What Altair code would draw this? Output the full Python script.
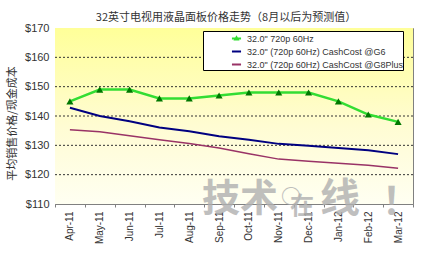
import altair as alt
import pandas as pd

months = ["Apr-11", "May-11", "Jun-11", "Jul-11", "Aug-11", "Sep-11",
          "Oct-11", "Nov-11", "Dec-11", "Jan-12", "Feb-12", "Mar-12"]
price_720p = [145, 149, 149, 146, 146, 147, 148, 148, 148, 145, 140.5, 138]
cash_g6 = [142.8, 140, 138.2, 136.1, 134.8, 133.1, 131.9, 130.5, 129.9, 129.1, 128.3, 127.0]
cash_g8 = [135.3, 134.6, 133.3, 131.9, 130.6, 129.1, 127.1, 125.3, 124.6, 123.9, 123.2, 122.2]
series_names = ['32.0" 720p 60Hz',
                '32.0" (720p 60Hz) CashCost @G6',
                '32.0" (720p 60Hz) CashCost @G8Plus']
y_ticks = [110, 120, 130, 140, 150, 160, 170]
grid_vals = [120, 130, 140, 150, 160]

rows = []
for name, vals in zip(series_names, [price_720p, cash_g6, cash_g8]):
    for m, v in zip(months, vals):
        rows.append({"month": m, "value": v, "series": name})
df = pd.DataFrame(rows)
grid_df = pd.DataFrame({"value": grid_vals})

W, H = 358, 176
FONT = "Liberation Sans"
CJK = "Noto Sans CJK SC"

x_scale = alt.Scale(type="band", domain=months, paddingInner=0, paddingOuter=0)
y_scale = alt.Scale(domain=[110, 170], nice=False, zero=False)
y_axis = alt.Axis(values=y_ticks, labelExpr="'$' + datum.value", grid=False, ticks=False,
                  domain=False, labelFontSize=11, labelFont=FONT, labelColor="#333333",
                  labelPadding=6, title="平均销售价格/现金成本", titleFont=CJK,
                  titleFontSize=11, titleFontWeight="normal", titleColor="#333333",
                  titleX=-43, titleY=95, titleAngle=270, titleAlign="center",
                  titleBaseline="middle")
x_axis = alt.Axis(title=None, labelAngle=270, labelAlign="right", labelBaseline="middle",
                  labelFontSize=10, labelFont=FONT, labelColor="#333333", tickBand="extent",
                  tickSize=3, tickColor="#808080", domainColor="#808080", labelPadding=4,
                  grid=False)

line_colors = ["#33dd33", "#000080", "#993366"]
line_widths = [2.5, 2, 1.5]
green_path = "M-0.7,0H0.7M-0.2,0.16L0,-0.18L0.2,0.16Z"
plain_path = "M-0.7,0H0.7"
pad = "\u00a0" * 10
legend = alt.Legend(title=None, orient="none", legendX=148, legendY=3, fillColor="#ffffff",
                    strokeColor="#000000", padding=0, symbolSize=169, symbolOffset=26,
                    labelOffset=3, labelFontSize=9, labelFont=FONT,
                    labelColor="#333333", symbolStrokeWidth=2, symbolFillColor="#006600",
                    symbolOpacity=1, rowPadding=0, columns=1,
                    labelExpr="datum.label + '" + pad + "'")

X = alt.X("month:N", scale=x_scale, axis=x_axis, sort=months)
Y = alt.Y("value:Q", scale=y_scale, axis=y_axis)

bg = alt.Chart(pd.DataFrame({"a": [0]})).mark_rect(
    fill=alt.Gradient(gradient="linear",
                      stops=[alt.GradientStop(color="#ffff99", offset=0),
                             alt.GradientStop(color="#fffcd2", offset=0.55),
                             alt.GradientStop(color="#fffff2", offset=1)],
                      x1=0, x2=0, y1=0, y2=1)
).encode(x=alt.value(0), x2=alt.value(W), y=alt.value(0), y2=alt.value(H))

grid = alt.Chart(grid_df).mark_rule(color="#333333", strokeDash=[2, 2], strokeWidth=1).encode(y=Y)

line_layers = []
for name, c, w in zip(series_names, line_colors, line_widths):
    line_layers.append(
        alt.Chart(df).transform_filter(alt.datum.series == name)
        .mark_line(color=c, strokeWidth=w).encode(x=X, y=Y)
    )

tri = alt.Chart(df).transform_filter(
    alt.datum.series == series_names[0]
).mark_point(shape="triangle-up", filled=True, color="#007700", size=50, opacity=1).encode(x=X, y=Y)

leg = alt.Chart(df).transform_filter(
    alt.datum.series == series_names[0]
).mark_point(filled=False, opacity=0, fill="#006600").encode(
    x=X, y=Y,
    color=alt.Color("series:N", scale=alt.Scale(domain=series_names, range=line_colors), legend=legend),
    shape=alt.Shape("series:N", scale=alt.Scale(domain=series_names, range=[green_path, plain_path, plain_path]), legend=legend),
)

wm_style = dict(font=CJK, fontWeight="bold", color="#b0b0b0", opacity=0.8,
                align="center", baseline="middle")
wm1 = alt.Chart(pd.DataFrame({"t": ["技术"]})).mark_text(fontSize=38, **wm_style).encode(
    text="t:N", x=alt.value(185), y=alt.value(172))
wm2 = alt.Chart(pd.DataFrame({"t": ["○"]})).mark_text(fontSize=20, **wm_style).encode(
    text="t:N", x=alt.value(236), y=alt.value(170))
wm3 = alt.Chart(pd.DataFrame({"t": ["在"]})).mark_text(fontSize=24, **wm_style).encode(
    text="t:N", x=alt.value(247), y=alt.value(179))
wm4 = alt.Chart(pd.DataFrame({"t": ["线"]})).mark_text(fontSize=40, **wm_style).encode(
    text="t:N", x=alt.value(285), y=alt.value(172))
wm5 = alt.Chart(pd.DataFrame({"t": ["！"]})).mark_text(fontSize=38, **wm_style).encode(
    text="t:N", x=alt.value(346), y=alt.value(175))

chart = alt.layer(bg, grid, *line_layers, tri, leg, wm1, wm2, wm3, wm4, wm5).properties(
    width=W, height=H,
    title=alt.TitleParams("32英寸电视用液晶面板价格走势（8月以后为预测值）", font=CJK,
                          fontSize=11, fontWeight="normal", color="#333333",
                          anchor="middle", dx=-8, dy=3, offset=2),
    autosize=alt.AutoSizeParams(type="none"),
    padding={"left": 55, "top": 28, "right": 17, "bottom": 49},
    background="#ffffff",
).configure_view(stroke="#808080", strokeWidth=1)

chart.save("out.html", embed_options={"renderer": "svg", "actions": False})
